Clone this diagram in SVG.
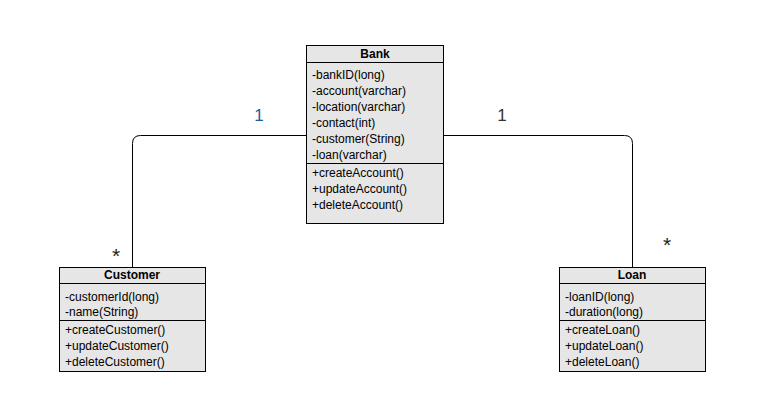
<svg xmlns="http://www.w3.org/2000/svg" width="757" height="410" viewBox="0 0 757 410">
<style>
.box{fill:#e6e6e6;stroke:#000;stroke-width:1}
.sep{stroke:#000;stroke-width:1}
.t{font-family:"Liberation Sans",Arial,sans-serif;font-size:12px;fill:#000}
.h{font-family:"Liberation Sans",Arial,sans-serif;font-size:12px;font-weight:bold;fill:#000;text-anchor:middle}
.edge{fill:none;stroke:#000;stroke-width:1}
.m{font-family:"Liberation Sans",Arial,sans-serif;font-size:17px}
.s{font-family:"Liberation Sans",Arial,sans-serif;font-size:21px}
</style>
<rect width="757" height="410" fill="#fff"/>
<g id="connectors">
<path class="edge" d="M306.5,135.5 H140.5 Q132.5,135.5 132.5,143.5 V267"/>
<path class="edge" d="M443.5,135.5 H624.5 Q632.5,135.5 632.5,143.5 V267"/>
<text class="m" x="259" y="121" text-anchor="middle" fill="#1f5c99">1</text>
<text class="m" x="502" y="121" text-anchor="middle" fill="#333">1</text>
<text class="s" x="116" y="263" text-anchor="middle" fill="#222">*</text>
<text class="s" x="667" y="252" text-anchor="middle" fill="#222">*</text>
</g>
<g id="bank">
<rect class="box" x="306.5" y="45.5" width="137" height="178"/>
<line class="sep" x1="306.5" y1="62.5" x2="443.5" y2="62.5"/>
<line class="sep" x1="306.5" y1="163.5" x2="443.5" y2="163.5"/>
<text class="h" x="375" y="58">Bank</text>
<text class="t" x="312" y="79">-bankID(long)</text>
<text class="t" x="312" y="95">-account(varchar)</text>
<text class="t" x="312" y="111">-location(varchar)</text>
<text class="t" x="312" y="127">-contact(int)</text>
<text class="t" x="312" y="143">-customer(String)</text>
<text class="t" x="312" y="159">-loan(varchar)</text>
<text class="t" x="312" y="177">+createAccount()</text>
<text class="t" x="312" y="193">+updateAccount()</text>
<text class="t" x="312" y="209">+deleteAccount()</text>
</g>
<g id="customer">
<rect class="box" x="59.5" y="267.5" width="146" height="104"/>
<line class="sep" x1="59.5" y1="283.5" x2="205.5" y2="283.5"/>
<line class="sep" x1="59.5" y1="320.5" x2="205.5" y2="320.5"/>
<text class="h" x="132" y="279">Customer</text>
<text class="t" x="65" y="301">-customerId(long)</text>
<text class="t" x="65" y="316">-name(String)</text>
<text class="t" x="65" y="334">+createCustomer()</text>
<text class="t" x="65" y="350">+updateCustomer()</text>
<text class="t" x="65" y="366">+deleteCustomer()</text>
</g>
<g id="loan">
<rect class="box" x="559.5" y="267.5" width="146" height="104"/>
<line class="sep" x1="559.5" y1="283.5" x2="705.5" y2="283.5"/>
<line class="sep" x1="559.5" y1="320.5" x2="705.5" y2="320.5"/>
<text class="h" x="632" y="279">Loan</text>
<text class="t" x="565" y="301">-loanID(long)</text>
<text class="t" x="565" y="316">-duration(long)</text>
<text class="t" x="565" y="334">+createLoan()</text>
<text class="t" x="565" y="350">+updateLoan()</text>
<text class="t" x="565" y="366">+deleteLoan()</text>
</g>
</svg>
